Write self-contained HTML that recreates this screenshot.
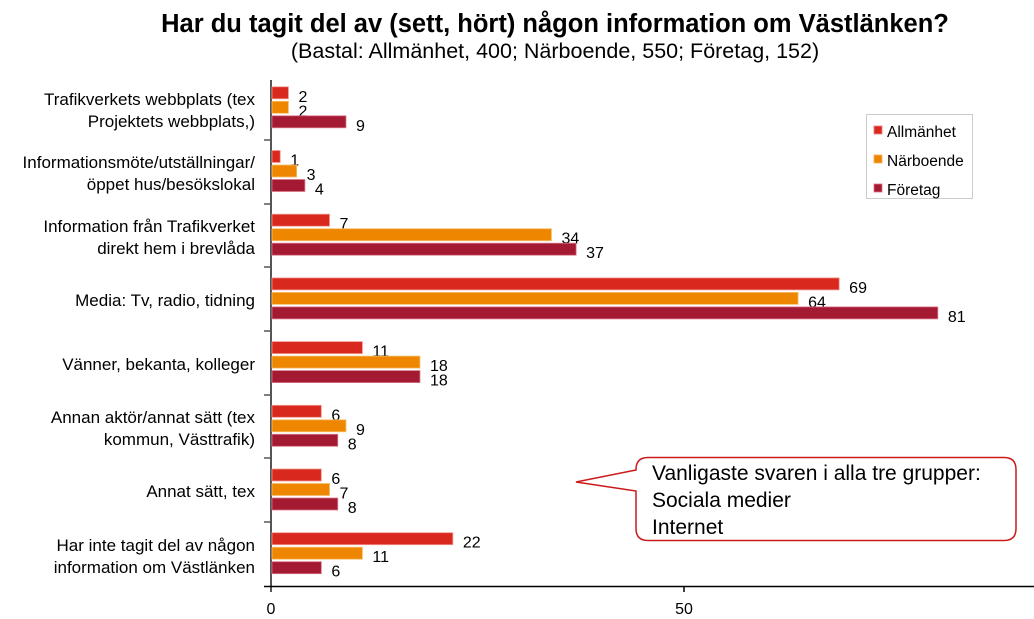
<!DOCTYPE html>
<html><head><meta charset="utf-8"><style>
html,body{margin:0;padding:0;background:#fff;}
svg{display:block;font-family:"Liberation Sans",Arial,sans-serif;}
</style></head><body>
<svg width="1034" height="619" viewBox="0 0 1034 619" xmlns="http://www.w3.org/2000/svg">
<text x="555" y="32" text-anchor="middle" font-size="25.5" font-weight="bold" fill="#000">Har du tagit del av (sett, hört) någon information om Västlänken?</text>
<text x="555" y="58" text-anchor="middle" font-size="21.5" fill="#000">(Bastal: Allmänhet, 400; Närboende, 550; Företag, 152)</text>
<g font-size="17" fill="#000" text-anchor="end">
<text x="255" y="105">Trafikverkets webbplats (tex</text><text x="255" y="127">Projektets webbplats,)</text>
<text x="255" y="168">Informationsmöte/utställningar/</text><text x="255" y="190">öppet hus/besökslokal</text>
<text x="255" y="232">Information från Trafikverket</text><text x="255" y="254">direkt hem i brevlåda</text>
<text x="255" y="306">Media: Tv, radio, tidning</text>
<text x="255" y="370">Vänner, bekanta, kolleger</text>
<text x="255" y="423">Annan aktör/annat sätt (tex</text><text x="255" y="445">kommun, Västtrafik)</text>
<text x="255" y="497">Annat sätt, tex</text>
<text x="255" y="551">Har inte tagit del av någon</text><text x="255" y="573">information om Västlänken</text>
</g>
<line x1="271" y1="80" x2="271" y2="592" stroke="#555" stroke-width="2"/>
<line x1="264" y1="586.5" x2="1034" y2="586.5" stroke="#000" stroke-width="1.5"/>
<line x1="684" y1="586" x2="684" y2="592" stroke="#000" stroke-width="1.5"/>
<g stroke="#555" stroke-width="1.5">
<line x1="264" y1="140" x2="271" y2="140"/><line x1="264" y1="204" x2="271" y2="204"/><line x1="264" y1="267" x2="271" y2="267"/><line x1="264" y1="331" x2="271" y2="331"/><line x1="264" y1="395" x2="271" y2="395"/><line x1="264" y1="458" x2="271" y2="458"/><line x1="264" y1="522" x2="271" y2="522"/>
</g>
<text x="271" y="614" text-anchor="middle" font-size="16">0</text>
<text x="684" y="614" text-anchor="middle" font-size="16">50</text>
<rect x="866.5" y="114.5" width="106" height="84" fill="#fff" stroke="#ccc"/>
<rect x="874" y="126" width="8" height="8" fill="#d9291f" stroke="#f08080" stroke-width="0.8"/><text x="887" y="137" font-size="15.5">Allmänhet</text>
<rect x="874" y="155" width="8" height="8" fill="#ee8600" stroke="#f5b060" stroke-width="0.8"/><text x="887" y="166" font-size="15.5">Närboende</text>
<rect x="874" y="184" width="8" height="8" fill="#a51a33" stroke="#e07080" stroke-width="0.8"/><text x="887" y="195" font-size="15.5">Företag</text>
<path d="M648 457.5 H1004 Q1016 457.5 1016 469.5 V528.5 Q1016 540.5 1004 540.5 H648 Q636 540.5 636 528.5 V491 L576 482 L636 470 V469.5 Q636 457.5 648 457.5 Z" fill="#fff" stroke="#cc1a1a" stroke-width="1.5"/>
<g font-size="21" fill="#000">
<text x="652" y="480">Vanligaste svaren i alla tre grupper:</text>
<text x="652" y="507">Sociala medier</text>
<text x="652" y="534">Internet</text>
</g>
<g id="b" font-size="16" fill="#000"></g>
<script>
(function(){
var d=[[2,2,9],[1,3,4],[7,34,37],[69,64,81],[11,18,18],[6,9,8],[6,7,8],[22,11,6]];
var c=["#d9291f","#ee8600","#a51a33"],s=["#f19a90","#f7c070","#d87888"];
var off=[10.5,25,39.5];var g=document.getElementById("b");var ns="http://www.w3.org/2000/svg";
for(var i=0;i<8;i++){var y0=76.3+i*63.7;for(var j=0;j<3;j++){var v=d[i][j];var w=v*8.22;var y=y0+off[j];
var r=document.createElementNS(ns,"rect");r.setAttribute("x",272);r.setAttribute("y",y);r.setAttribute("width",w);r.setAttribute("height",12);r.setAttribute("fill",c[j]);r.setAttribute("stroke",s[j]);r.setAttribute("stroke-width","0.8");g.appendChild(r);
var t=document.createElementNS(ns,"text");t.setAttribute("x",272+w+10);t.setAttribute("y",y+15);t.textContent=v;g.appendChild(t);}}
})();
</script>
</svg>
</body></html>
